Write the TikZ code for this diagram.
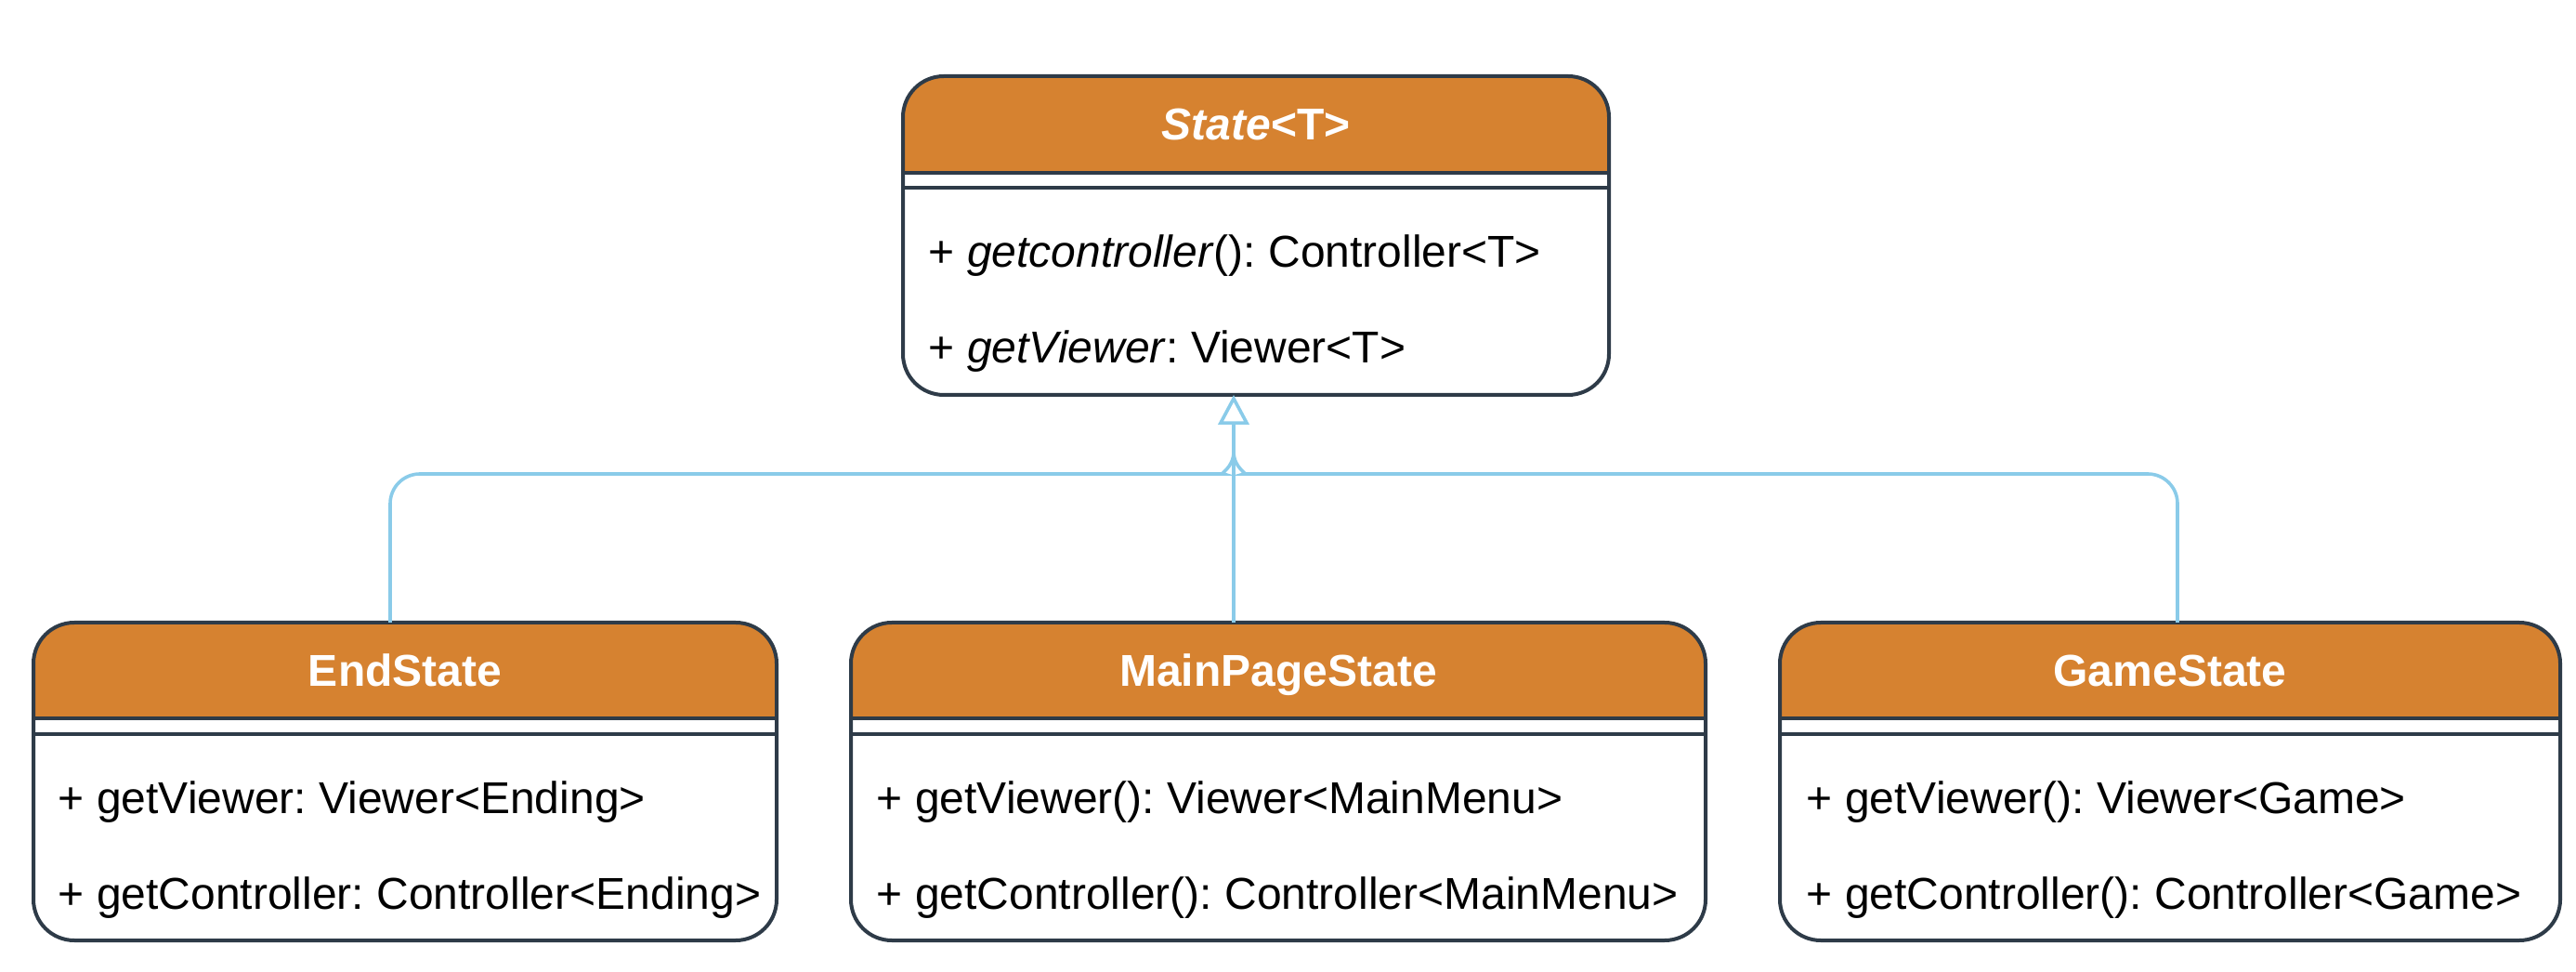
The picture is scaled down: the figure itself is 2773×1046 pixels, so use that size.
\documentclass[tikz,border=0pt]{standalone}
\usepackage{fontspec}
\setmainfont{Liberation Sans}
\frenchspacing
\usetikzlibrary{arrows.meta,fit}
\definecolor{hdrc}{RGB}{214,130,48}
\definecolor{brd}{RGB}{46,59,72}
\definecolor{lnk}{RGB}{138,203,233}
\tikzset{
  boxarea/.style={inner sep=0pt, outer sep=0pt, fill=white},
  brdline/.style={draw=brd, line width=1pt},
  titletxt/.style={anchor=base, inner sep=0pt, text=white, font=\fontsize{12pt}{14pt}\selectfont\bfseries},
  membertxt/.style={anchor=base west, inner sep=0pt, text=black, font=\fontsize{12pt}{14pt}\selectfont},
  conn/.style={draw=lnk, line width=0.9pt},
}
\newcommand{\umlclass}[7]{% name, x1, y1, x2, y2, hdr, sep
  \node[boxarea, fit={(#2,#3) (#4,#5)}] (#1) {};
  \fill[hdrc, rounded corners=11pt] (#2,#3) rectangle (#4,#6);
  \fill[hdrc] (#2,#3+60) rectangle (#4,#6);
  \draw[brdline] (#2,#6) -- (#4,#6);
  \draw[brdline] (#2,#7) -- (#4,#7);
  \draw[brdline, rounded corners=11pt] (#1.north west) rectangle (#1.south east);
}
\begin{document}
\begin{tikzpicture}[x=0.25pt, y=-0.25pt]
\useasboundingbox (0,0) rectangle (2773,1046);

\umlclass{state}{972}{82}{1732}{425}{186}{202}
\node[titletxt] (statet) at (1352,151) {\textit{State}<T>};
\node[membertxt] (state1) at (999,288) {+ \textit{getcontroller}(): Controller<T>};
\node[membertxt] (state2) at (999,391) {+ \textit{getViewer}: Viewer<T>};

\umlclass{endst}{36}{670}{836}{1012}{773}{790}
\node[titletxt] (endt) at (436,739) {EndState};
\node[membertxt] (end1) at (62,875) {+ getViewer: Viewer<Ending>};
\node[membertxt] (end2) at (62,978) {+ getController: Controller<Ending>};

\umlclass{mps}{916}{670}{1836}{1012}{773}{790}
\node[titletxt] (mpst) at (1376,739) {MainPageState};
\node[membertxt] (mps1) at (943,875) {+ getViewer(): Viewer<MainMenu>};
\node[membertxt] (mps2) at (943,978) {+ getController(): Controller<MainMenu>};

\umlclass{game}{1916}{670}{2756}{1012}{773}{790}
\node[titletxt] (gamet) at (2336,739) {GameState};
\node[membertxt] (game1) at (1944,875) {+ getViewer(): Viewer<Game>};
\node[membertxt] (game2) at (1944,978) {+ getController(): Controller<Game>};

\coordinate (jl) at (1285,510);
\coordinate (jr) at (1371,510);
\coordinate (jv) at (1328,486);
\coordinate (tb) at (1328,460);
\coordinate (eTop) at (420,670);
\coordinate (gTop) at (2344,670);

\draw[conn] (eTop) [rounded corners=8pt] |- (jl) [sharp corners] .. controls (1312,510) and (1328,504) .. (jv) -- (tb);
\draw[conn] (gTop) [rounded corners=8pt] |- (jr) [sharp corners] .. controls (1344,510) and (1328,504) .. (jv) -- (tb);
\draw[conn, -{Triangle[open, length=8pt, width=8.3pt, line width=0.9pt]}] (jv |- mps.north) -- (jv |- state.south);
\end{tikzpicture}
\end{document}
